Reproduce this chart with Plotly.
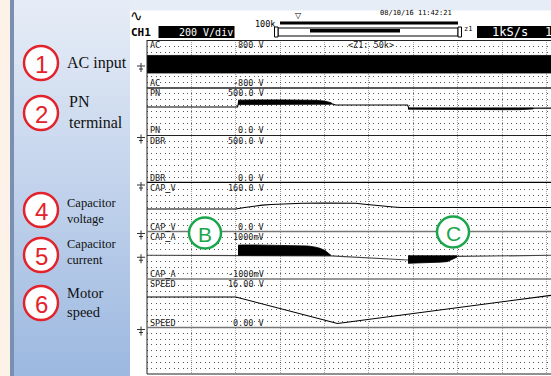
import plotly.graph_objects as go

W, H = 551, 376

# ---------------- data ----------------
channels = ["AC", "PN", "DBR", "CAP_V", "CAP_A", "SPEED"]
top_labels = ["800 V", "500.0 V", "500.0 V", "160.0 V", "1000mV", "16.00 V"]
bottom_labels = ["-800 V", "0.0 V", "0.0 V", "0.0 V", "-1000mV", "0.00 V"]
channel_ranges = [(-800, 800), (0, 500), (0, 500), (0, 160), (-1000, 1000), (0, 16), (0, 8)]

ac_t = [0, 91]
ac_upper = [285, 285]
ac_lower = [-300, -300]

pn_t = [0, 20.4, 20.6, 41.5, 42.5, 58.7, 59.0, 87.0, 87.5, 91]
pn_v = [300, 300, 345, 335, 321, 321, 285, 285, 288, 288]
pn_b1_t = [20.5, 22, 26, 30, 34, 38, 40, 41.5]
pn_b1_hi = [372, 374, 375, 375, 374, 370, 362, 345]
pn_b1_lo = [325, 326, 327, 328, 329, 330, 330, 330]
pn_b2_t = [58.8, 65, 72, 79, 84, 87]
pn_b2_hi = [290, 290, 289, 288, 288, 288]
pn_b2_lo = [277, 276, 275, 272, 272, 280]

dbr_t = [0, 91]
dbr_v = [0, 0]

capv_t = [0, 20, 22, 24, 26, 28, 31, 35, 40, 46, 47, 49, 51, 53, 55.5, 57, 91]
capv_v = [74, 74, 79, 84, 87, 89, 91, 93, 94, 95, 93, 90, 88, 85, 81, 79, 79]

capa_t = [0, 20.5, 41.4, 58.8, 69.8, 91]
capa_v = [0, 0, -30, -200, -50, 0]
capa_b1_t = [20.5, 21, 24, 28, 32, 36.3, 38, 39, 40.1, 41.4]
capa_b1_hi = [420, 432, 435, 430, 420, 390, 340, 290, 200, 20]
capa_b1_lo = [0, 0, 0, 0, 0, 0, 0, 0, 0, 0]
capa_b2_t = [58.8, 60, 63, 66, 67.6, 68.5, 69.8]
capa_b2_hi = [-20, -20, -20, -20, -20, -20, -20]
capa_b2_lo = [-340, -330, -310, -290, -270, -200, -80]

speed_t = [0, 20, 42.9, 91]
speed_v = [10.06, 10.06, 1.3, 10.6]

side_numbers = ["1", "2", "4", "5", "6"]
side_texts = ["AC input", "PN<br>terminal", "Capacitor<br>voltage", "Capacitor<br>current", "Motor<br>speed"]

# ---------------- layout helpers ----------------
def px(x):
    return x / W

def py(y):
    return 1 - y / H

band_edges = [40, 88, 135.5, 183, 231.5, 279, 327.5, 374]
x_left = 147

fig = go.Figure()

def line(t, v, yr, color="black", width=1.1):
    fig.add_trace(go.Scatter(x=t, y=v, yaxis=yr, mode="lines",
                             line=dict(color=color, width=width),
                             hoverinfo="skip", showlegend=False))

def band(t, hi, lo, yr):
    fig.add_trace(go.Scatter(x=list(t) + list(t[::-1]), y=list(hi) + list(lo[::-1]),
                             yaxis=yr, mode="lines", fill="toself", fillcolor="black",
                             line=dict(color="black", width=0.8),
                             hoverinfo="skip", showlegend=False))

band(ac_t, ac_upper, ac_lower, "y")
line(pn_t, pn_v, "y2")
band(pn_b1_t, pn_b1_hi, pn_b1_lo, "y2")
band(pn_b2_t, pn_b2_hi, pn_b2_lo, "y2")
line(dbr_t, dbr_v, "y3", width=2.5)
line(capv_t, capv_v, "y4")
line(capa_t, capa_v, "y5", color="#444", width=1.2)
band(capa_b1_t, capa_b1_hi, capa_b1_lo, "y5")
band(capa_b2_t, capa_b2_hi, capa_b2_lo, "y5")
line(speed_t, speed_v, "y6")
fig.add_trace(go.Scatter(x=[0], y=[0], yaxis="y7", mode="markers",
                         marker=dict(opacity=0), hoverinfo="skip", showlegend=False))

layout = dict(
    width=W, height=H, margin=dict(l=0, r=0, t=0, b=0),
    paper_bgcolor="white", plot_bgcolor="rgba(0,0,0,0)", showlegend=False,
    xaxis=dict(domain=[px(x_left), 1], range=[0, 91], tick0=0, dtick=10,
               showgrid=True, gridcolor="#a0a0a0", griddash="1px,1px", gridwidth=1,
               zeroline=False, showticklabels=False, ticks="", showline=False,
               anchor="y7", fixedrange=True),
)
for i in range(7):
    name = "yaxis" if i == 0 else f"yaxis{i+1}"
    lo, hi = channel_ranges[i]
    top, bot = band_edges[i], band_edges[i + 1]
    layout[name] = dict(domain=[py(bot), py(top)], range=[lo, hi], tick0=lo, dtick=(hi - lo) / 8,
                        showgrid=True, gridcolor="#555", griddash="1px,3.44px", gridwidth=1,
                        zeroline=False, showticklabels=False, ticks="", showline=False,
                        anchor="x", fixedrange=True)
fig.update_layout(**layout)

shapes = []
# left beige strip, slate bar
shapes.append(dict(type="rect", xref="paper", yref="paper", x0=0, x1=px(10), y0=0, y1=1,
                   fillcolor="#fdf2e7", line=dict(width=0), layer="below"))
shapes.append(dict(type="rect", xref="paper", yref="paper", x0=px(10), x1=px(14), y0=0, y1=1,
                   fillcolor="#7b8fb0", line=dict(width=0), layer="below"))
# gradient panel
c0 = (231, 237, 247)
c1 = (156, 184, 224)
n = 47
for k in range(n):
    f = (k + 0.5) / n
    c = tuple(int(round(c0[j] + (c1[j] - c0[j]) * f)) for j in range(3))
    y0p, y1p = H * k / n, H * (k + 1) / n
    shapes.append(dict(type="rect", xref="paper", yref="paper", x0=px(14), x1=px(130),
                       y0=py(y1p + 0.5), y1=py(y0p), fillcolor="rgb(%d,%d,%d)" % c,
                       line=dict(width=0), layer="below"))
shapes.append(dict(type="rect", xref="paper", yref="paper", x0=px(130), x1=1, y0=py(10.5), y1=1,
                   fillcolor="rgb(%d,%d,%d)" % c0, line=dict(width=0), layer="below"))

# screen frame and separators
shapes.append(dict(type="line", xref="paper", yref="paper", x0=px(x_left), x1=px(x_left),
                   y0=py(374), y1=py(40), line=dict(color="#222", width=1)))
shapes.append(dict(type="line", xref="paper", yref="paper", x0=px(x_left), x1=1,
                   y0=py(40.5), y1=py(40.5), line=dict(color="#222", width=1)))
shapes.append(dict(type="line", xref="paper", yref="paper", x0=px(x_left), x1=1,
                   y0=py(374), y1=py(374), line=dict(color="#222", width=1.2)))
for yb, col, wd in [(88, "#222", 1.3), (135.5, "#222", 1.2), (231.5, "#777", 1.5),
                    (279, "#777", 1.5), (327.5, "#777", 1.5)]:
    shapes.append(dict(type="line", xref="paper", yref="paper", x0=px(x_left), x1=1,
                       y0=py(yb), y1=py(yb), line=dict(color=col, width=wd)))

# ground symbols
for yz in [64, 135.5, 183, 231.5, 255.25, 327.5]:
    shapes.append(dict(type="line", xref="paper", yref="paper", x0=px(137), x1=px(145),
                       y0=py(yz + 2), y1=py(yz + 2), line=dict(color="#333", width=1)))
    shapes.append(dict(type="line", xref="paper", yref="paper", x0=px(141), x1=px(141),
                       y0=py(yz - 1), y1=py(yz + 8), line=dict(color="#333", width=1)))
    shapes.append(dict(type="line", xref="paper", yref="paper", x0=px(139), x1=px(143),
                       y0=py(yz + 5), y1=py(yz + 5), line=dict(color="#333", width=1)))

# header boxes
shapes.append(dict(type="rect", xref="paper", yref="paper", x0=px(158.5), x1=px(234.5),
                   y0=py(38), y1=py(26), fillcolor="black", line=dict(width=0)))
shapes.append(dict(type="rect", xref="paper", yref="paper", x0=px(477), x1=1,
                   y0=py(38), y1=py(26), fillcolor="black", line=dict(width=0)))
shapes.append(dict(type="rect", xref="paper", yref="paper", x0=px(280), x1=px(458),
                   y0=py(24.5), y1=py(21.5), fillcolor="black", line=dict(width=0)))
shapes.append(dict(type="rect", xref="paper", yref="paper", x0=px(278), x1=px(458),
                   y0=py(36), y1=py(28), fillcolor="white", line=dict(color="black", width=1)))
shapes.append(dict(type="rect", xref="paper", yref="paper", x0=px(310), x1=px(400),
                   y0=py(32.5), y1=py(29), fillcolor="black", line=dict(width=0)))
shapes.append(dict(type="rect", xref="paper", yref="paper", x0=px(458), x1=px(461.5),
                   y0=py(37), y1=py(27), fillcolor="white", line=dict(color="black", width=1)))
shapes.append(dict(type="rect", xref="paper", yref="paper", x0=px(274.5), x1=px(278),
                   y0=py(37), y1=py(27), fillcolor="white", line=dict(color="black", width=1)))

# red numbered circles
red_centers = [63, 113, 210, 255, 303]
R = 17
for cy in red_centers:
    shapes.append(dict(type="circle", xref="paper", yref="paper", x0=px(41 - R), x1=px(41 + R),
                       y0=py(cy + R), y1=py(cy - R), fillcolor="white",
                       line=dict(color="#e2232b", width=2.5)))
# green circles
for cx, cy in [(205, 233), (453, 232)]:
    shapes.append(dict(type="circle", xref="paper", yref="paper", x0=px(cx - 16), x1=px(cx + 16),
                       y0=py(cy + 15.5), y1=py(cy - 15.5), fillcolor="white",
                       line=dict(color="#1aa64b", width=2.5)))
fig.update_layout(shapes=shapes)

ann = []
mono = "DejaVu Sans Mono"

def A(text, x, y, size, color="#333", xanchor="left", family=mono, yanchor="middle", **kw):
    ann.append(dict(text=text, x=px(x), y=py(y), xref="paper", yref="paper", showarrow=False,
                    xanchor=xanchor, yanchor=yanchor, align="left",
                    font=dict(size=size, color=color, family=family),
                    borderpad=0, **kw))

for i, nm in enumerate(channels):
    top, bot = band_edges[i], band_edges[i + 1]
    shown = nm.replace("_", "<b>_</b>")
    A(shown, 149, top + 5.0, 8.5, color="#222")
    A(top_labels[i], 265, top + 5.0, 8.5, color="#222", xanchor="right")
    A(shown, 149, bot - 5.0, 8.5, color="#222")
    A(bottom_labels[i], 265, bot - 5.0, 8.5, color="#222", xanchor="right")
A("&lt;Z1: 50k&gt;", 347, 45.0, 8.5, color="#222")

A("∿", 129, 16, 15, color="black", family="DejaVu Sans")
A("<b>CH1</b>", 129.5, 32, 11, color="black", family=mono)
A("200 V/div", 234, 32, 10, color="white", xanchor="right")
A("100k", 254, 24, 8.5, color="black")
A("▽", 299, 16, 8, color="black", xanchor="center", family="DejaVu Sans")
A("08/10/16 11:42:21", 379, 13, 7, color="black")
A("z1", 463, 29, 7, color="black")
A("1kS/s", 491, 32, 12, color="white")
A("1", 543.5, 32, 12, color="white")

for i, cy in enumerate(red_centers):
    A(side_numbers[i], 41, cy + 1, 24, color="#e2232b", xanchor="center", family="Liberation Sans")

A(side_texts[0], 66, 63, 16, color="#111", family="Liberation Serif")
A(side_texts[1], 68, 112, 16, color="#111", family="Liberation Serif")
A(side_texts[2], 66, 211, 12.5, color="#111", family="Liberation Serif")
A(side_texts[3], 66, 252, 12.5, color="#111", family="Liberation Serif")
A(side_texts[4], 66, 302, 14.5, color="#111", family="Liberation Serif")

A("B", 205, 234, 21, color="#1aa64b", xanchor="center", family="Liberation Sans")
A("C", 453, 233, 21, color="#1aa64b", xanchor="center", family="Liberation Sans")

fig.update_layout(annotations=ann)
fig.write_html("out.html", config={"displayModeBar": False},
               post_script="document.body.style.margin='0';document.body.style.padding='0';")
